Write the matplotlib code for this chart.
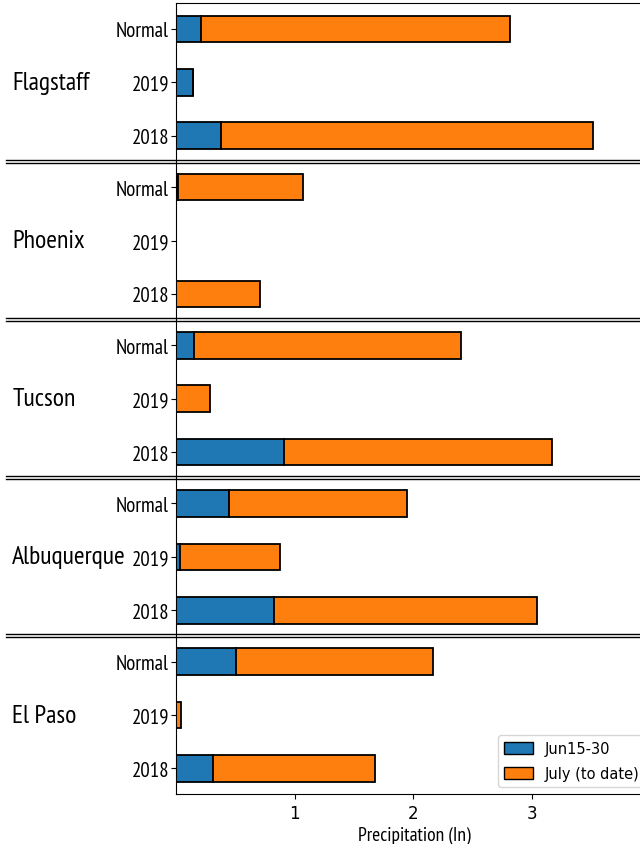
import numpy as np
import matplotlib
matplotlib.use("Agg")
import matplotlib.pyplot as plt
from matplotlib.lines import Line2D
from matplotlib.patches import Patch

cities = ["Flagstaff", "Phoenix", "Tucson", "Albuquerque", "El Paso"]
periods = ["Normal", "2019", "2018"]

# Jun15-30 precip (in), order: Normal, 2019, 2018
jun = {
    "Flagstaff": [0.21, 0.14, 0.38],
    "Phoenix": [0.02, 0.0, 0.0],
    "Tucson": [0.15, 0.0, 0.91],
    "Albuquerque": [0.45, 0.03, 0.83],
    "El Paso": [0.51, 0.0, 0.31],
}
# July (to date) precip (in)
july = {
    "Flagstaff": [2.61, 0.0, 3.14],
    "Phoenix": [1.05, 0.0, 0.71],
    "Tucson": [2.25, 0.29, 2.26],
    "Albuquerque": [1.50, 0.85, 2.21],
    "El Paso": [1.66, 0.04, 1.37],
}

cond = ["PT Sans Narrow", "DejaVu Sans"]
blue = "#1f77b4"
orange = "#ff7f0e"

fig = plt.figure(figsize=(6.4, 8.45), dpi=100)
left, right, top, bottom = 0.275, 1.02, 0.995, 0.059
h = (top - bottom) / len(cities)

axes = []
for i, city in enumerate(cities):
    ax = fig.add_axes([left, top - (i + 1) * h, right - left, h])
    axes.append(ax)
    y = np.arange(len(periods))
    ax.barh(y, jun[city], height=0.5, color=blue, edgecolor="black", linewidth=1.3)
    ax.barh(y, july[city], left=jun[city], height=0.5, color=orange,
            edgecolor="black", linewidth=1.3)
    ax.set_ylim(2.48, -0.48)
    ax.set_xlim(0, 4.02)
    ax.set_yticks(y)
    ax.set_yticklabels(periods, family=cond, fontsize=15)
    ax.tick_params(axis="y", pad=1.5)
    ax.spines["right"].set_visible(False)
    if i > 0:
        ax.spines["top"].set_visible(False)
    if i < len(cities) - 1:
        ax.spines["bottom"].set_visible(False)
        ax.tick_params(axis="x", bottom=False, labelbottom=False)
    else:
        ax.set_xticks([1, 2, 3])
        ax.set_xticklabels(["1", "2", "3"], fontsize=12)
        ax.set_xlabel("Precipitation (In)", family=cond, fontsize=14, labelpad=3)
    fig.text(0.019, top - (i + 0.5) * h, city, family=cond, fontsize=18.5,
             ha="left", va="center")

# double separator lines between panels
for i in range(1, len(cities)):
    yb = top - i * h
    for off in (0.0018, -0.0018):
        fig.add_artist(Line2D([0.01, 1.0], [yb + off, yb + off], color="black",
                              linewidth=1.0, transform=fig.transFigure))

handles = [Patch(facecolor=blue, edgecolor="black", label="Jun15-30"),
           Patch(facecolor=orange, edgecolor="black", label="July (to date)")]
axes[-1].legend(handles=handles, loc="lower right", fontsize=10.5,
                labelspacing=0.7, handleheight=0.9)

fig.savefig("out.png", dpi=100)
